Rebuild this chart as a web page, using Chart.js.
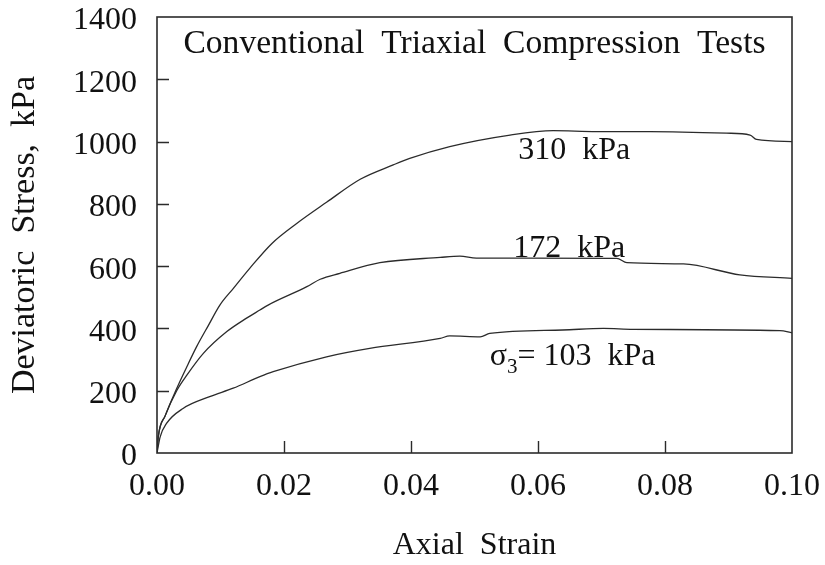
<!DOCTYPE html>
<html>
<head>
<meta charset="utf-8">
<script src="https://cdn.jsdelivr.net/npm/chart.js@4.4.1/dist/chart.umd.min.js"></script>
<style>
  html, body { margin: 0; padding: 0; background: #fff; }
  #wrap { width: 825px; height: 565px; }
</style>
</head>
<body>
<div id="wrap"><canvas id="triaxial-chart" width="825" height="565"></canvas></div>
<script>
// Axial strain / deviatoric stress
const strain310 = [0, 0.0002, 0.0013, 0.0031, 0.0047, 0.0062, 0.0081, 0.0099, 0.0120, 0.0146, 0.0181, 0.0220, 0.0267, 0.0320, 0.0372, 0.0398, 0.0461, 0.0556, 0.0624, 0.0692, 0.0776, 0.0897, 0.0934, 0.0944, 0.1000];
const stress310 = [0, 52, 120, 207, 277, 340, 410, 475, 528, 593, 673, 737, 805, 879, 925, 946, 984, 1021, 1035, 1032, 1032, 1027, 1021, 1007, 1000];

const strain172 = [0, 0.0002, 0.0013, 0.0031, 0.0047, 0.0073, 0.0110, 0.0141, 0.0162, 0.0175, 0.0236, 0.0257, 0.0288, 0.0351, 0.0446, 0.0477, 0.0503, 0.0724, 0.0740, 0.0829, 0.0918, 0.1000];
const stress172 = [0, 52, 120, 200, 250, 320, 390, 433, 459, 475, 534, 558, 577, 611, 628, 632, 626, 625, 611, 607, 572, 561];

const strain103 = [0, 0.0005, 0.0015, 0.0041, 0.0083, 0.0120, 0.0162, 0.0183, 0.0267, 0.0335, 0.0446, 0.0461, 0.0509, 0.0524, 0.0639, 0.0703, 0.0750, 0.0981, 0.1000];
const stress103 = [0, 52, 95, 143, 181, 208, 245, 261, 309, 336, 368, 376, 373, 384, 395, 400, 397, 393, 386];

const xTicks = { min: 0, max: 0.10, step: 0.02 };
const yTicks = { min: 0, max: 1400, step: 200 };

const chartTitle = 'Conventional  Triaxial  Compression  Tests';
const xTitle = 'Axial  Strain';
const yTitle = 'Deviatoric  Stress,  kPa';

const INK = '#2b2b2b';
const SERIF = '"Liberation Serif", "Times New Roman", serif';

Chart.defaults.font.family = SERIF;
Chart.defaults.color = '#111';

function toPoints(xs, ys) {
    return xs.map((x, i) => ({ x: x, y: ys[i] }));
}

function curve(xs, ys) {
    return {
        data: toPoints(xs, ys),
        borderColor: INK,
        borderWidth: 1.3,
        pointRadius: 0,
        fill: false,
        cubicInterpolationMode: 'monotone'
    };
}

// frame, inward tick marks and the text inside the plot
const framePlugin = {
    id: 'frame',
    afterDatasetsDraw(chart) {
        const { ctx, chartArea: a, scales: { x, y } } = chart;
        ctx.save();
        ctx.strokeStyle = INK;
        ctx.lineWidth = 1.6;
        ctx.strokeRect(a.left, a.top, a.right - a.left, a.bottom - a.top);

        ctx.lineWidth = 1.4;
        ctx.beginPath();
        x.ticks.forEach(t => {
            if (t.value <= x.min || t.value >= x.max) return;
            const px = Math.round(x.getPixelForValue(t.value)) + 0.5;
            ctx.moveTo(px, a.bottom);
            ctx.lineTo(px, a.bottom - 12);
        });
        y.ticks.forEach(t => {
            if (t.value <= y.min || t.value >= y.max) return;
            const py = Math.round(y.getPixelForValue(t.value)) + 0.5;
            ctx.moveTo(a.left, py);
            ctx.lineTo(a.left + 12, py);
        });
        ctx.stroke();

        ctx.fillStyle = '#111';
        ctx.textBaseline = 'alphabetic';

        ctx.font = '33.6px ' + SERIF;
        ctx.textAlign = 'center';
        ctx.fillText(chartTitle, x.getPixelForValue(0.05), y.getPixelForValue(1285));

        ctx.textAlign = 'left';
        ctx.font = '32px ' + SERIF;
        ctx.fillText('310  kPa', x.getPixelForValue(0.0569), y.getPixelForValue(944));
        ctx.fillText('172  kPa', x.getPixelForValue(0.0561), y.getPixelForValue(630));

        // sigma with subscript 3
        let sx = x.getPixelForValue(0.0524);
        const sy = y.getPixelForValue(283);
        ctx.fillText('\u03c3', sx, sy);
        sx += ctx.measureText('\u03c3').width;
        ctx.font = '21px ' + SERIF;
        ctx.fillText('3', sx, sy + 8);
        sx += ctx.measureText('3').width;
        ctx.font = '32px ' + SERIF;
        ctx.fillText('= 103  kPa', sx, sy);
        ctx.restore();
    }
};

new Chart(document.getElementById('triaxial-chart'), {
    type: 'line',
    data: {
        datasets: [
            curve(strain310, stress310),
            curve(strain172, stress172),
            curve(strain103, stress103)
        ]
    },
    options: {
        responsive: false,
        animation: false,
        events: [],
        layout: { padding: { top: 17, right: 33, left: 0, bottom: 0 } },
        plugins: {
            legend: { display: false },
            tooltip: { enabled: false }
        },
        scales: {
            x: {
                type: 'linear',
                min: xTicks.min,
                max: xTicks.max,
                grid: { display: false, drawTicks: false },
                border: { display: false },
                ticks: {
                    stepSize: xTicks.step,
                    padding: 14,
                    maxRotation: 0,
                    font: { size: 32 },
                    color: '#111',
                    callback: v => v.toFixed(2)
                },
                title: {
                    display: true,
                    text: xTitle,
                    font: { size: 32 },
                    color: '#111',
                    padding: { top: 0, bottom: 0 }
                },
                afterFit(scale) {
                    scale.height = 112;
                    scale.paddingLeft = 0;
                    scale.paddingRight = 0;
                }
            },
            y: {
                min: yTicks.min,
                max: yTicks.max,
                grid: { display: false, drawTicks: false },
                border: { display: false },
                ticks: {
                    stepSize: yTicks.step,
                    padding: 20,
                    labelOffset: 4,
                    font: { size: 32 },
                    color: '#111',
                    callback: v => String(v)
                },
                title: {
                    display: true,
                    text: yTitle,
                    font: { size: 34 },
                    color: '#111',
                    padding: { top: 5, bottom: 0 }
                },
                afterFit(scale) {
                    scale.width = 157;
                    scale.paddingTop = 0;
                    scale.paddingBottom = 0;
                }
            }
        }
    },
    plugins: [framePlugin]
});
</script>
</body>
</html>
